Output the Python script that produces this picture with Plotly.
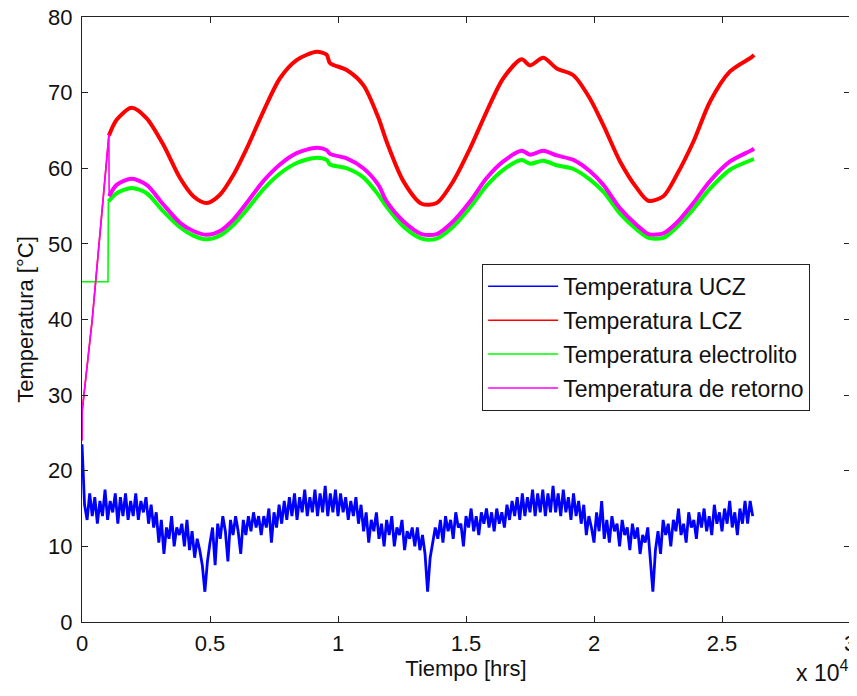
import plotly.graph_objects as go

# ---------------- data ----------------
series_names = ["Temperatura UCZ", "Temperatura LCZ",
                "Temperatura electrolito", "Temperatura de retorno"]
series_colors = ["#0000FF", "#FF0000", "#00FF00", "#FF00FF"]

x_tick_vals = [0, 5000, 10000, 15000, 20000, 25000, 30000]
x_tick_text = ["0", "0.5", "1", "1.5", "2", "2.5", "3"]
y_tick_vals = [0, 10, 20, 30, 40, 50, 60, 70, 80]

# Temperatura UCZ: sampled every 100 s from 0 to 26200
ucz_t = list(range(0, 26300, 100))
ucz_val = [
    23.5, 15.5, 13.5, 17.0, 14.0, 16.5, 13.0, 16.0, 14.0, 17.5,
    13.5, 16.0, 14.5, 17.0, 13.0, 16.5, 14.0, 17.0, 13.5, 16.0,
    14.0, 17.0, 13.5, 16.0, 14.5, 16.5, 13.0, 15.5, 12.5, 14.5,
    10.5, 13.5, 9.0, 12.5, 11.0, 14.0, 10.0, 12.5, 11.5, 13.0,
    10.0, 13.5, 9.5, 12.0, 8.5, 11.0, 9.5, 7.5, 4.0, 8.0,
    10.5, 12.5, 7.5, 13.0, 11.0, 14.0, 12.0, 8.0, 13.5, 11.5,
    14.0, 12.0, 9.0, 13.5, 11.5, 14.0, 12.0, 14.5, 12.5, 14.0,
    11.5, 14.0, 12.5, 15.0, 10.5, 14.5, 12.5, 15.5, 13.0, 16.0,
    13.5, 16.5, 14.0, 17.0, 13.5, 16.5, 14.5, 17.5, 14.0, 16.5,
    14.5, 17.5, 14.0, 17.0, 14.5, 18.0, 14.0, 17.0, 14.5, 17.5,
    14.0, 17.0, 14.5, 16.5, 13.5, 16.0, 14.0, 16.5, 13.0, 15.5,
    12.0, 14.5, 10.5, 13.5, 12.0, 14.5, 11.0, 13.0, 10.0, 13.5,
    11.5, 14.0, 10.0, 12.5, 11.5, 13.5, 9.5, 12.0, 11.0, 12.5,
    10.0, 12.5, 9.5, 11.5, 9.0, 4.0, 8.5, 10.5, 12.5, 11.0,
    13.5, 10.5, 14.0, 12.0, 13.5, 11.0, 14.5, 12.5, 13.0, 10.0,
    14.0, 12.5, 15.0, 12.0, 14.0, 11.5, 14.5, 13.0, 15.0, 12.5,
    14.5, 12.0, 15.0, 13.0, 14.5, 12.5, 15.5, 13.5, 16.0, 14.0,
    16.5, 13.5, 17.0, 14.0, 16.5, 14.5, 17.5, 14.0, 17.0, 14.5,
    17.5, 14.0, 17.0, 14.5, 18.0, 14.5, 17.0, 14.0, 17.5, 14.5,
    16.5, 13.5, 17.0, 14.0, 16.0, 13.0, 15.5, 11.5, 14.0, 12.5,
    10.5, 14.5, 12.0, 16.0, 11.0, 13.5, 10.5, 14.0, 12.0, 13.0,
    10.0, 13.5, 11.5, 12.5, 9.5, 13.0, 11.0, 12.5, 9.0, 11.5,
    10.5, 12.5, 8.0, 4.0, 9.5, 12.0, 9.0, 13.5, 11.5, 13.0,
    10.0, 13.5, 12.0, 15.0, 11.5, 13.0, 10.5, 14.5, 12.5, 13.5,
    11.0, 14.5, 12.5, 15.0, 12.0, 14.0, 11.5, 15.5, 13.0, 14.5,
    12.0, 15.0, 13.0, 16.0, 12.5, 14.5, 11.5, 15.0, 13.0, 16.0,
    13.0, 16.0, 14.0,
]

# Temperatura LCZ: start-up ramp, then the daily cycle
lcz_start_t = [0, 10, 400, 1050]
lcz_start_val = [24.0, 28.0, 40.0, 64.3]
lcz_t = [1050, 1354, 1940, 2526, 3177, 3828, 4349, 4870, 5390, 5911, 6432,
         7083, 7734, 8385, 9167, 9557, 9688, 10339, 10990, 11575, 11901,
         12552, 13268, 13854, 14505, 15156, 15807, 16458, 17174, 17500,
         18021, 18542, 19193, 19844, 20365, 21016, 21667, 22122, 22708,
         23229, 23880, 24531, 25313, 26160, 26250]
lcz_val = [64.3, 66.4, 68.0, 66.6, 63.1, 58.7, 56.3, 55.4, 56.5, 59.1, 62.6,
           67.5, 71.9, 74.3, 75.4, 75.0, 73.9, 73.0, 71.0, 66.7, 63.5, 58.3,
           55.3, 55.4, 58.3, 62.6, 67.5, 71.9, 74.4, 73.6, 74.6, 73.2, 72.3,
           69.2, 65.7, 60.9, 57.4, 55.7, 56.3, 59.1, 63.5, 68.8, 72.8, 74.7,
           75.0]

# Temperatura electrolito: constant start, step, then the daily cycle
ele_start_t = [0, 1016, 1030]
ele_start_val = [45.0, 45.0, 55.6]
ele_t = [1030, 1354, 1940, 2526, 3177, 3828, 4349, 4870, 5390, 5911, 6432,
         7083, 7734, 8385, 9167, 9557, 9688, 10339, 10990, 11575, 11901,
         12552, 13268, 13854, 14505, 15156, 15807, 16458, 17174, 17500,
         18021, 18542, 19193, 19844, 20365, 21016, 21667, 22135, 22708,
         23229, 23880, 24531, 25313, 26160, 26250]
ele_val = [55.6, 56.7, 57.4, 56.7, 54.3, 52.2, 51.1, 50.6, 51.1, 52.5, 54.5,
           57.2, 59.3, 60.7, 61.4, 61.1, 60.5, 60.0, 58.8, 56.5, 54.9, 52.3,
           50.7, 50.7, 52.3, 54.8, 57.7, 59.8, 61.1, 60.6, 61.0, 60.4, 59.9,
           58.5, 56.9, 54.0, 51.9, 50.8, 50.8, 52.2, 54.6, 57.3, 59.8, 61.1,
           61.2]

# Temperatura de retorno: start-up ramp, drop, then the daily cycle
ret_start_t = [0, 10, 400, 1050, 1060]
ret_start_val = [24.0, 28.0, 40.0, 64.5, 56.3]
ret_t = [1060, 1354, 1940, 2526, 3177, 3828, 4349, 4870, 5390, 5911, 6432,
         7083, 7734, 8385, 9167, 9557, 9688, 10339, 10990, 11575, 11901,
         12552, 13268, 13854, 14505, 15156, 15807, 16458, 17174, 17500,
         18021, 18542, 19193, 19844, 20365, 21016, 21667, 22135, 22708,
         23229, 23880, 24531, 25313, 26160, 26250]
ret_val = [56.3, 57.8, 58.6, 57.8, 55.2, 52.8, 51.7, 51.2, 51.7, 53.2, 55.4,
           58.3, 60.5, 62.0, 62.7, 62.4, 61.9, 61.3, 60.0, 57.8, 55.6, 53.0,
           51.3, 51.3, 53.0, 55.6, 58.7, 60.9, 62.3, 61.8, 62.3, 61.7, 61.1,
           59.6, 57.8, 54.7, 52.5, 51.3, 51.4, 52.8, 55.4, 58.3, 60.9, 62.4,
           62.6]

# ---------------- figure ----------------
FONT = "Liberation Sans, Arial, sans-serif"
TXT = "#111111"
fig = go.Figure()

# UCZ (noisy, drawn linearly)
fig.add_trace(go.Scatter(x=ucz_t, y=ucz_val, mode="lines",
                         name=series_names[0],
                         line=dict(color=series_colors[0], width=2.8),
                         showlegend=False, hoverinfo="skip"))

starts = [(lcz_start_t, lcz_start_val), (ele_start_t, ele_start_val),
          (ret_start_t, ret_start_val)]
mains = [(lcz_t, lcz_val), (ele_t, ele_val), (ret_t, ret_val)]
for k, ((st, sv), (mt, mv)) in enumerate(zip(starts, mains)):
    col = series_colors[k + 1]
    nm = series_names[k + 1]
    fig.add_trace(go.Scatter(x=st, y=sv, mode="lines", name=nm,
                             line=dict(color=col, width=1.6),
                             showlegend=False, hoverinfo="skip"))
    fig.add_trace(go.Scatter(x=mt, y=mv, mode="lines", name=nm,
                             line=dict(color=col, width=4, shape="spline",
                                       smoothing=0.8),
                             showlegend=False, hoverinfo="skip"))

# thin legend entries (MATLAB-style)
for i, (name, color) in enumerate(zip(series_names, series_colors)):
    fig.add_trace(go.Scatter(x=[None], y=[None], mode="lines", name=name,
                             line=dict(color=color, width=1.5),
                             legendgroup=f"g{i}", showlegend=True))

axis_common = dict(showline=True, linecolor="#222222", linewidth=1,
                   mirror="ticks", ticks="inside", ticklen=6,
                   tickcolor="#222222", showgrid=False, zeroline=False,
                   automargin=False, ticklabeloverflow="allow",
                   tickfont=dict(family=FONT, size=22, color=TXT))

fig.update_xaxes(range=[0, 30000], tickvals=x_tick_vals, ticktext=x_tick_text,
                 ticklabelstandoff=2,
                 title=dict(text="Tiempo [hrs]", standoff=0,
                            font=dict(family=FONT, size=22, color=TXT)),
                 **axis_common)
fig.update_yaxes(range=[0, 80], tickvals=y_tick_vals,
                 ticklabelstandoff=4,
                 title=dict(text="Temperatura [°C]", standoff=8,
                            font=dict(family=FONT, size=22, color=TXT)),
                 **axis_common)

fig.add_annotation(text="x 10<sup>4</sup>", xref="paper", yref="paper",
                   x=1.0, y=-0.109, xanchor="right", yanchor="bottom",
                   showarrow=False,
                   font=dict(family=FONT, size=23, color=TXT))

# the page body adds an 8 px margin, so the figure is kept inside the window
fig.update_layout(
    width=849, height=680,
    margin=dict(l=74, r=7, t=9, b=66),
    plot_bgcolor="white", paper_bgcolor="white",
    font=dict(family=FONT, size=22, color=TXT),
    legend=dict(x=0.521, y=0.592, xanchor="left", yanchor="top",
                bgcolor="white", bordercolor="#222222", borderwidth=1,
                tracegroupgap=1, itemwidth=70,
                font=dict(family=FONT, size=23, color=TXT)),
)

fig.write_html("out.html")
